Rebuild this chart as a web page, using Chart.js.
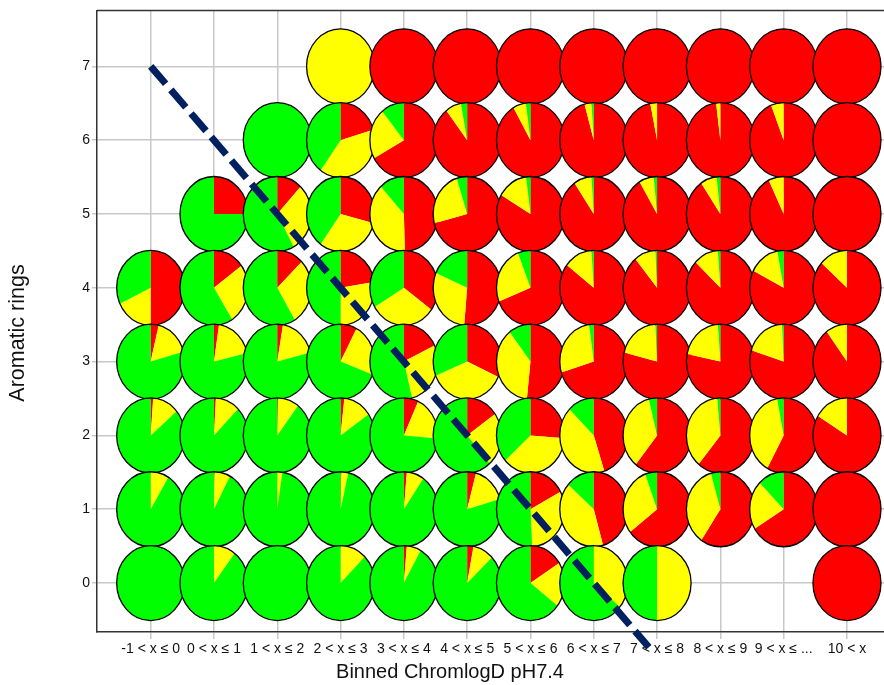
<!DOCTYPE html>
<html>
<head>
<meta charset="utf-8">
<script src="https://cdn.jsdelivr.net/npm/chart.js@4.4.1/dist/chart.umd.min.js"></script>
<style>
  html, body { margin: 0; padding: 0; background: #fff; }
  #wrap { width: 884px; height: 685px; }
</style>
</head>
<body>
<div id="wrap"><canvas id="pies" width="884" height="685"></canvas></div>
<script>
const bins = ['-1 < x ≤ 0', '0 < x ≤ 1', '1 < x ≤ 2', '2 < x ≤ 3', '3 < x ≤ 4', '4 < x ≤ 5',
              '5 < x ≤ 6', '6 < x ≤ 7', '7 < x ≤ 8', '8 < x ≤ 9', '9 < x ≤ ...', '10 < x'];
const rings = [0, 1, 2, 3, 4, 5, 6, 7];

// % of compounds per cell, one row per ring count, null = empty bin
const redShare = [
  [0, 0, 0, 0, 1.4, 3, 16, 0, 0, null, null, 100],
  [0, 0.3, 0, 0.4, 1.4, 4.2, 17.3, 45.6, 64.6, 59.5, 66.3, 100],
  [1.2, 0.9, 0.4, 1.8, 6.9, 15.3, 26.2, 45, 60.8, 61.1, 58, 83.7],
  [3.8, 2.4, 2.7, 7.8, 17.9, 31.7, 51.7, 70.3, 78.9, 78.3, 79.9, 89.8],
  [50, 15, 12.8, 22.5, 35, 51.4, 69, 85.4, 89, 87, 82.5, 86.5],
  [null, 25, 12, 29, 49.5, 71, 83.4, 90.4, 91.4, 90.4, 92.8, 100],
  [null, null, 0, 20.5, 67, 89.5, 91.7, 95.6, 96.8, 98, 94, 100],
  [null, null, null, 0, 100, 100, 100, 100, 100, 100, 100, 100]
];
const yellowShare = [
  [0, 10.4, 0, 12.6, 6.8, 10, 19.4, 36, 50, null, null, 0],
  [8.7, 7.5, 2.4, 3.3, 8.3, 16.4, 31.9, 40.8, 29.7, 36, 21.2, 0],
  [12.7, 11.6, 10, 13.7, 19.4, 23.2, 37.1, 42.3, 35.3, 37.4, 38.9, 16.3],
  [17, 18.9, 18.4, 22.8, 28.2, 37.2, 37.8, 27.5, 20.3, 20.5, 19.3, 10.2],
  [18, 26, 28.6, 27.5, 31.4, 30.1, 25, 13.5, 10.2, 11.8, 14.5, 13.5],
  [null, 0, 30, 31, 38.6, 24, 14.5, 8.5, 7, 7.8, 7.2, 0],
  [null, null, 0, 39.5, 22, 7.5, 6.1, 3.3, 3.2, 2, 6, 0],
  [null, null, null, 100, 0, 0, 0, 0, 0, 0, 0, 0]
];
const greenShare = [
  [100, 89.6, 100, 87.4, 91.8, 87, 64.6, 64, 50, null, null, 0],
  [91.3, 92.2, 97.6, 96.3, 90.3, 79.4, 50.8, 13.6, 5.7, 4.5, 12.5, 0],
  [86.1, 87.5, 89.6, 84.5, 73.7, 61.5, 36.7, 12.7, 3.9, 1.5, 3.1, 0],
  [79.2, 78.7, 78.9, 69.4, 53.9, 31.1, 10.5, 2.2, 0.8, 1.2, 0.8, 0],
  [32, 59, 58.6, 50, 33.6, 18.5, 6, 1.1, 0.8, 1.2, 3, 0],
  [null, 75, 58, 40, 11.9, 5, 2.1, 1.1, 1.6, 1.8, 0, 0],
  [null, null, 100, 40, 11, 3, 2.2, 1.1, 0, 0, 0, 0],
  [null, null, null, 0, 0, 0, 0, 0, 0, 0, 0, 0]
];
const cutLine = [{x: 0, y: 7}, {x: 7.87, y: -0.87}];

const xTitle = 'Binned ChromlogD pH7.4';
const yTitle = 'Aromatic rings';

const RX = 34, RY = 37.5;
const FONT = "'Liberation Sans', Arial, sans-serif";

// top row first, left to right, so lower/right pies overlap the earlier ones
const cells = [];
for (let r = rings.length - 1; r >= 0; r--) {
  bins.forEach((b, c) => {
    if (redShare[r][c] === null) return;
    cells.push({x: c, y: rings[r], red: redShare[r][c], yellow: yellowShare[r][c], green: greenShare[r][c]});
  });
}

const pieCells = {
  id: 'pieCells',
  beforeDatasetsDraw(chart) {
    const ctx = chart.ctx;
    const area = chart.chartArea;
    // frame line along the top
    ctx.save();
    ctx.strokeStyle = '#333';
    ctx.lineWidth = 1.5;
    ctx.beginPath();
    ctx.moveTo(area.left, area.top);
    ctx.lineTo(area.right, area.top);
    ctx.stroke();
    ctx.restore();

    const meta = chart.getDatasetMeta(1);
    meta.data.forEach((pt, i) => {
      const cell = cells[i];
      const total = cell.red + cell.yellow + cell.green;
      ctx.save();
      ctx.translate(pt.x, pt.y);
      ctx.scale(RX / RY, 1);
      let a = -Math.PI / 2;
      [[cell.red, '#ff0000'], [cell.yellow, '#ffff00'], [cell.green, '#00ff00']].forEach(([v, col]) => {
        if (!v) return;
        const b = a + v / total * Math.PI * 2;
        ctx.beginPath();
        ctx.moveTo(0, 0);
        ctx.arc(0, 0, RY, a, b);
        ctx.closePath();
        ctx.fillStyle = col;
        ctx.fill();
        a = b;
      });
      ctx.beginPath();
      ctx.arc(0, 0, RY, 0, Math.PI * 2);
      ctx.restore();
      ctx.lineWidth = 1.3;
      ctx.strokeStyle = '#000';
      ctx.stroke();
    });
  },
  afterDraw(chart) {
    // axis titles sit off-centre in the original, so place them by hand
    const ctx = chart.ctx;
    ctx.save();
    ctx.fillStyle = '#111';
    ctx.textAlign = 'center';
    ctx.textBaseline = 'middle';
    ctx.font = '20px ' + FONT;
    ctx.fillText(xTitle, 450, 672);
    ctx.translate(18, 333);
    ctx.rotate(-Math.PI / 2);
    ctx.font = '21.5px ' + FONT;
    ctx.fillText(yTitle, 0, 0);
    ctx.restore();
  }
};

new Chart(document.getElementById('pies'), {
  type: 'scatter',
  data: {
    datasets: [{
      type: 'line',
      data: cutLine,
      borderColor: '#002060',
      borderWidth: 7,
      borderDash: [23, 8],
      pointRadius: 0,
      clip: false
    }, {
      data: cells,
      pointRadius: 0,
      pointHoverRadius: 0
    }]
  },
  options: {
    responsive: false,
    animation: false,
    events: [],
    layout: { padding: { top: 10, right: 0, left: 0, bottom: 0 } },
    plugins: { legend: { display: false }, tooltip: { enabled: false } },
    scales: {
      x: {
        type: 'linear',
        min: -0.848,
        max: 11.585,
        afterBuildTicks: s => { s.ticks = bins.map((b, i) => ({value: i})); },
        afterFit: s => { s.height = 53; },
        ticks: {
          callback: v => bins[v],
          autoSkip: false,
          maxRotation: 0,
          padding: 2,
          color: '#111',
          font: { family: FONT, size: 14 }
        },
        grid: { color: '#c8c8c8', lineWidth: 1.5, tickLength: 7 },
        border: { color: '#333', width: 1.5 }
      },
      y: {
        type: 'linear',
        min: -0.663,
        max: 7.758,
        afterBuildTicks: s => { s.ticks = rings.map(v => ({value: v})); },
        afterFit: s => { s.width = 97; },
        ticks: {
          padding: 2,
          color: '#111',
          font: { family: FONT, size: 14 }
        },
        grid: { color: '#c8c8c8', lineWidth: 1.5, tickLength: 5 },
        border: { color: '#333', width: 1.5 }
      }
    }
  },
  plugins: [pieCells]
});
</script>
</body>
</html>
